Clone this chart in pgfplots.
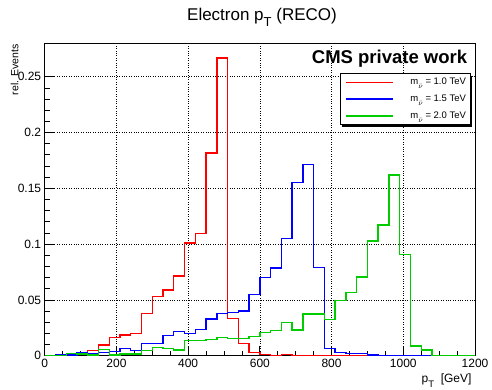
\documentclass[border=0pt]{standalone}
\usepackage{fontspec}
\setmainfont{Liberation Sans}
\usepackage{pgfplots}
\pgfplotsset{compat=1.18}

\definecolor{rootred}{RGB}{255,0,0}
\definecolor{rootblue}{RGB}{0,0,255}
\definecolor{rootgreen}{RGB}{0,204,0}

% lowered, smaller subscript in the ROOT style: \rsub{size}{text}
\newcommand{\rsub}[2]{\raisebox{-0.38em}{\fontsize{#1}{#1}\selectfont #2}}

\begin{document}
\begin{tikzpicture}
\useasboundingbox (-44.7pt,-33.3pt) rectangle (447.3pt,355.7pt);
\begin{axis}[
  at={(0pt,0pt)}, anchor=south west,
  scale only axis, width=430.3pt, height=312.4pt,
  xmin=0, xmax=1200, ymin=0, ymax=0.28,
  xtick={0,200,...,1200},
  ytick={0,0.05,0.1,0.15,0.2,0.25},
  minor x tick num=3, minor y tick num=4,
  tick pos=left, tick align=inside,
  major tick length=10pt, minor tick length=5pt,
  tick style={black, line width=0.8pt},
  axis line style={line width=0.8pt},
  grid=major,
  major grid style={dotted, black, line width=0.6pt},
  scaled y ticks=false,
  xticklabel style={/pgf/number format/1000 sep={}},
  yticklabel style={/pgf/number format/fixed, /pgf/number format/precision=2},
  /pgf/number format/assume math mode=true,
  ticklabel style={font=\fontsize{12}{14}\selectfont},
  title={Electron p\rsub{13}{T} (RECO)},
  title style={at={(axis description cs:0.505,1)}, anchor=base, yshift=17.3pt,
               font=\fontsize{17}{20}\selectfont},
  xlabel={p\rsub{9.5}{T}\ \ [GeV]},
  xlabel style={at={(axis description cs:1,0)}, anchor=base east, yshift=-27pt,
                font=\fontsize{12}{14}\selectfont},
  ylabel={rel. Events},
  ylabel style={at={(axis description cs:-0.0614,1.0074)}, anchor=base east,
                font=\fontsize{10.5}{12}\selectfont},
  legend style={name=leg, at={(axis description cs:1,1)}, anchor=north east,
                xshift=-4.3pt, yshift=-30pt,
                draw=black, line width=0.6pt, fill=white,
                inner xsep=4.5pt, inner ysep=4.2pt, row sep=7.8pt,
                /tikz/every odd column/.append style={column sep=17pt},
                nodes={inner sep=0pt, text height=7pt, text depth=2pt,
                       font=\fontsize{9.5}{11}\selectfont}},
  legend cell align=left,
  legend image code/.code={
    \draw[#1] (5.8pt,0pt) -- (52.8pt,0pt);
  },
  every axis plot/.append style={mark=none, line width=1.4pt, sharp plot},
]
% m = 1.0 TeV: step outline of the 30 GeV bins
\addplot[draw=rootred] coordinates {
 (0,0) (60,0) (60,0.0012) (90,0.0012) (90,0.0030) (120,0.0030)
 (120,0.0045) (150,0.0045) (150,0.0095) (180,0.0095) (180,0.0164) (210,0.0164)
 (210,0.0185) (240,0.0185) (240,0.0197) (270,0.0197) (270,0.0379) (300,0.0379)
 (300,0.0528) (330,0.0528) (330,0.0588) (360,0.0588) (360,0.0716) (390,0.0716)
 (390,0.1010) (420,0.1010) (420,0.1095) (450,0.1095) (450,0.1817) (480,0.1817)
 (480,0.2670) (510,0.2670) (510,0.0334) (540,0.0334) (540,0.0110) (570,0.0110)
 (570,0.0030) (600,0.0030) (600,0.0012) (630,0.0012) (630,0) (660,0)
 (660,0.0012) (690,0.0012) (690,0) (1200,0)
};
\addlegendentry{m\rsub{7.5}{$\bar{\nu}$} = 1.0 TeV}
% m = 1.5 TeV
\addplot[draw=rootblue] coordinates {
 (0,0) (30,0) (30,0.0006) (90,0.0006) (90,0.0030) (120,0.0030)
 (120,0.0020) (150,0.0020) (150,0.0030) (180,0.0030) (180,0.0036) (210,0.0036)
 (210,0.0063) (240,0.0063) (240,0.0045) (270,0.0045) (270,0.0110) (330,0.0110)
 (330,0.0179) (360,0.0179) (360,0.0215) (390,0.0215) (390,0.0197) (420,0.0197)
 (420,0.0236) (450,0.0236) (450,0.0328) (480,0.0328) (480,0.0379) (510,0.0379)
 (510,0.0388) (540,0.0388) (540,0.0400) (570,0.0400) (570,0.0546) (600,0.0546)
 (600,0.0702) (630,0.0702) (630,0.0785) (660,0.0785) (660,0.1050) (690,0.1050)
 (690,0.1550) (720,0.1550) (720,0.1716) (750,0.1716) (750,0.0788) (780,0.0788)
 (780,0.0066) (810,0.0066) (810,0.0030) (840,0.0030) (840,0.0020) (870,0.0020)
 (870,0.0018) (900,0.0018) (900,0.0005) (930,0.0005) (930,0.0003) (960,0.0003)
 (960,0) (1200,0)
};
\addlegendentry{m\rsub{7.5}{$\bar{\nu}$} = 1.5 TeV}
% m = 2.0 TeV
\addplot[draw=rootgreen] coordinates {
 (0,0) (60,0) (60,0.0020) (90,0.0020) (90,0.0015) (120,0.0015)
 (120,0.0006) (150,0.0006) (150,0.0054) (180,0.0054) (180,0.0006) (210,0.0006)
 (210,0.0015) (270,0.0015) (270,0.0045) (300,0.0045) (300,0.0075) (330,0.0075)
 (330,0.0066) (360,0.0066) (360,0.0050) (390,0.0050) (390,0.0134) (450,0.0134)
 (450,0.0146) (480,0.0146) (480,0.0164) (510,0.0164) (510,0.0152) (540,0.0152)
 (540,0.0155) (570,0.0155) (570,0.0170) (600,0.0170) (600,0.0206) (630,0.0206)
 (630,0.0224) (660,0.0224) (660,0.0295) (690,0.0295) (690,0.0230) (720,0.0230)
 (720,0.0373) (780,0.0373) (780,0.0325) (810,0.0325) (810,0.0496) (840,0.0496)
 (840,0.0564) (870,0.0564) (870,0.0705) (900,0.0705) (900,0.1027) (930,0.1027)
 (930,0.1170) (960,0.1170) (960,0.1618) (990,0.1618) (990,0.0907) (1020,0.0907)
 (1020,0.0087) (1050,0.0087) (1050,0.0051) (1080,0.0051) (1080,0) (1200,0)
};
\addlegendentry{m\rsub{7.5}{$\bar{\nu}$} = 2.0 TeV}

\node[anchor=base east, font=\fontsize{18.5}{22}\selectfont\bfseries,
      xshift=-4.3pt, yshift=-20pt] at (rel axis cs:1,1) {CMS private work};
\end{axis}
% shadow edge of the legend box
\draw[black, line width=1.4pt]
  ([xshift=1.0pt, yshift=-2.2pt]leg.north east) --
  ([xshift=1.0pt, yshift=-1.0pt]leg.south east) --
  ([xshift=2.2pt, yshift=-1.0pt]leg.south west);
\end{tikzpicture}
\end{document}
